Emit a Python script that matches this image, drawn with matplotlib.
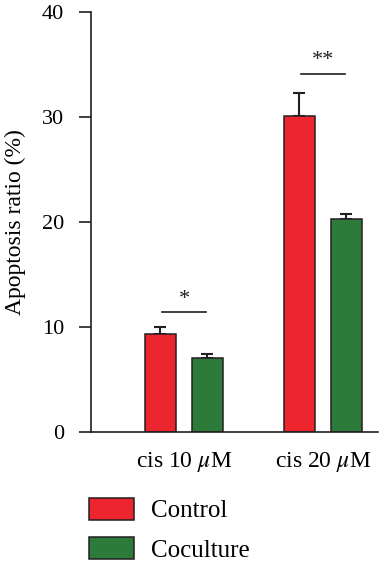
import numpy as np
import matplotlib
matplotlib.use("Agg")
import matplotlib.pyplot as plt
from matplotlib.patches import Patch

plt.rcParams['font.family'] = ['Liberation Serif', 'DejaVu Serif']
plt.rcParams['mathtext.fontset'] = 'stix'

# Data
groups = [r"cis 10 $\mu$M", r"cis 20 $\mu$M"]
control = [9.35, 30.1]
control_err = [0.65, 2.2]
coculture = [7.05, 20.3]
coculture_err = [0.4, 0.45]
sig_heights = [11.4, 34.1]
sig_labels = ["*", "**"]

red = "#EC252E"
green = "#2D7B3B"
dark = "#231F20"

fig = plt.figure(figsize=(3.81, 5.64), dpi=100)
ax = fig.add_axes([91 / 381, 1 - 432 / 564, 287 / 381, 420 / 564])

x = np.arange(len(groups))
w = 0.223
off = 0.169

ax.bar(x - off, control, w, color=red, edgecolor=dark, linewidth=1.1, label="Control", zorder=2)
ax.bar(x + off, coculture, w, color=green, edgecolor=dark, linewidth=1.1, label="Coculture", zorder=2)
ax.errorbar(x - off, control, yerr=[np.zeros(2), control_err], fmt="none",
            ecolor=dark, elinewidth=1.5, capsize=4.5, capthick=1.5, zorder=1)
ax.errorbar(x + off, coculture, yerr=[np.zeros(2), coculture_err], fmt="none",
            ecolor=dark, elinewidth=1.5, capsize=4.5, capthick=1.5, zorder=1)

# significance markers
for xi, h, lab in zip(x, sig_heights, sig_labels):
    ax.plot([xi - 0.16, xi + 0.16], [h, h], color=dark, linewidth=1.2)
    ax.text(xi, h + 0.35, lab, ha="center", va="bottom", fontsize=16, color=dark)

ax.set_xlim(-0.669, 1.396)
ax.set_ylim(0, 40)
ax.set_yticks([0, 10, 20, 30, 40])
ax.set_xticks(x)
ax.set_xticklabels(groups, fontsize=17)
ax.tick_params(axis="x", length=0, pad=13)
ax.tick_params(axis="y", length=8.5, width=1.2, pad=11, labelsize=16, color=dark)
ax.set_ylabel("Apoptosis ratio (%)", fontsize=17, labelpad=11)

for s in ["top", "right"]:
    ax.spines[s].set_visible(False)
for s in ["left", "bottom"]:
    ax.spines[s].set_linewidth(1.2)
    ax.spines[s].set_color(dark)

fs = 18
px = fs * 100 / 72
handles = [Patch(facecolor=red, edgecolor=dark, linewidth=1.1, label="Control"),
           Patch(facecolor=green, edgecolor=dark, linewidth=1.1, label="Coculture")]
fig.legend(handles=handles, loc="upper left", bbox_to_anchor=(89 / 381, 1 - 498 / 564),
           frameon=False, fontsize=fs, handlelength=45 / px, handleheight=24 / px,
           handletextpad=17 / px, labelspacing=15 / px, borderpad=0, borderaxespad=0)

fig.savefig("out.png", dpi=100)
